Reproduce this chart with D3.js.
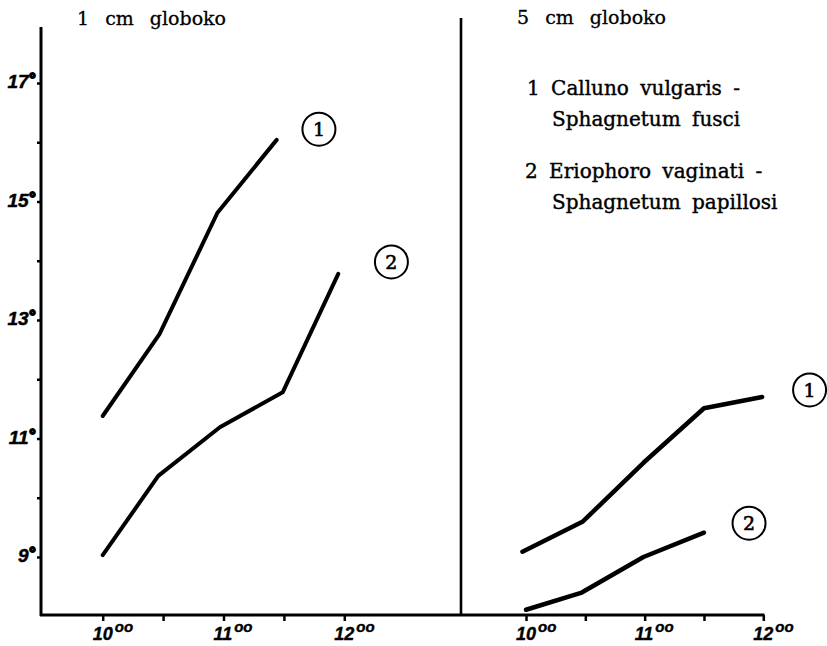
<!DOCTYPE html>
<html>
<head>
<meta charset="utf-8">
<script src="https://cdn.jsdelivr.net/npm/d3@7"></script>
<style>
  html, body { margin: 0; padding: 0; background: #fff; }
  svg { display: block; }
</style>
</head>
<body>
<svg id="chart" width="827" height="646"></svg>
<script>
// ---- data ----
const timeTicks = [10, 10.5, 11, 11.5, 12];
const timeLabels = ["10", "", "11", "", "12"];
const tempTicks = [9, 10, 11, 12, 13, 14, 15, 16, 17];
const tempLabels = ["9", "", "11", "", "13", "", "15", "", "17"];

// 1 cm depth
const left1Time = [10, 10.47, 10.95, 11.44];
const left1Temp = [11.38, 12.76, 14.81, 16.04];
const left2Time = [10, 10.46, 10.97, 11.49, 11.95];
const left2Temp = [9.03, 10.37, 11.19, 11.78, 13.78];
// 5 cm depth
const right1Time = [9.97, 10.48, 10.99, 11.5, 11.99];
const right1Temp = [9.09, 9.6, 10.59, 11.51, 11.70];
const right2Time = [10, 10.47, 10.99, 11.5];
const right2Temp = [8.11, 8.40, 9.0, 9.41];

// circled series numbers (time, temp)
const leftMarkers = [{n: "1", t: 11.79, v: 16.22}, {n: "2", t: 12.39, v: 13.98}];
const rightMarkers = [{n: "1", t: 12.39, v: 11.82}, {n: "2", t: 11.88, v: 9.57}];

const titles = ["1 cm globoko", "5 cm globoko"];
const legendLines = ["1 Calluno vulgaris -", "Sphagnetum fusci", "2 Eriophoro vaginati -", "Sphagnetum papillosi"];

// ---- drawing ----
const svg = d3.select("#chart");
const y = d3.scaleLinear().domain([9, 17]).range([557, 83]);
const xL = d3.scaleLinear().domain([10, 12]).range([102.7, 344.3]);
const xR = d3.scaleLinear().domain([10, 12]).range([526, 763.3]);
const baseY = 615;

// axes frame
svg.append("line").attr("x1", 41).attr("x2", 41).attr("y1", 27).attr("y2", baseY + 1)
  .attr("stroke", "#000").attr("stroke-width", 3);
svg.append("line").attr("x1", 461).attr("x2", 461).attr("y1", 18).attr("y2", baseY)
  .attr("stroke", "#000").attr("stroke-width", 2.6);
svg.append("line").attr("x1", 40).attr("x2", 764.5).attr("y1", baseY).attr("y2", baseY)
  .attr("stroke", "#000").attr("stroke-width", 3);

// y axis ticks
const yAxis = d3.axisLeft(y).tickValues(tempTicks).tickSize(4).tickFormat("");
const gy = svg.append("g").attr("transform", "translate(41,0)").call(yAxis);
gy.select(".domain").remove();
gy.selectAll(".tick line").attr("stroke", "#000").attr("stroke-width", 2.5);

const tickFont = "Liberation Sans, Arial, sans-serif";
tempTicks.forEach((v, i) => {
  if (!tempLabels[i]) return;
  const t = svg.append("text")
    .attr("x", 35).attr("y", y(v) + 5)
    .attr("text-anchor", "end")
    .attr("font-family", tickFont).attr("font-style", "italic").attr("font-weight", "bold")
    .attr("font-size", 19).attr("fill", "#000")
    .attr("stroke", "#000").attr("stroke-width", 0.5);
  t.append("tspan").text(tempLabels[i]);
  t.append("tspan").attr("dy", -3).attr("font-size", 16)
    .attr("stroke-width", 1.8).text("°");
});

// x axes
function xAxisFor(scale) {
  const g = svg.append("g").attr("transform", `translate(0,${baseY})`)
    .call(d3.axisBottom(scale).tickValues(timeTicks).tickSize(6).tickFormat(""));
  g.select(".domain").remove();
  g.selectAll(".tick line").attr("stroke", "#000").attr("stroke-width", 2.5);
  timeTicks.forEach((t, i) => {
    if (!timeLabels[i]) return;
    const tx = svg.append("text")
      .attr("x", scale(t) - 10).attr("y", 640)
      .attr("font-family", tickFont).attr("font-style", "italic").attr("font-weight", "bold")
      .attr("font-size", 18).attr("fill", "#000")
      .attr("stroke", "#000").attr("stroke-width", 0.4);
    tx.append("tspan").text(timeLabels[i]);
    tx.append("tspan").attr("dx", 2).attr("dy", -8).attr("font-size", 15).text("oo");
  });
}
xAxisFor(xL);
xAxisFor(xR);

// series lines
function drawLine(xs, ts, vs, w) {
  const pts = ts.map((t, i) => [xs(t), y(vs[i])]);
  svg.append("path")
    .attr("d", d3.line()(pts))
    .attr("fill", "none").attr("stroke", "#000")
    .attr("stroke-width", w).attr("stroke-linecap", "round").attr("stroke-linejoin", "round");
}
drawLine(xL, left1Time, left1Temp, 4);
drawLine(xL, left2Time, left2Temp, 4);
drawLine(xR, right1Time, right1Temp, 4.5);
drawLine(xR, right2Time, right2Temp, 4.5);

// circled labels
const serif = "DejaVu Serif, Liberation Serif, serif";
function drawMarkers(xs, list) {
  list.forEach(m => {
    const cx = xs(m.t), cy = y(m.v);
    svg.append("circle").attr("cx", cx).attr("cy", cy).attr("r", 16.5)
      .attr("fill", "none").attr("stroke", "#000").attr("stroke-width", 2);
    svg.append("text").attr("x", cx).attr("y", cy + 7)
      .attr("text-anchor", "middle").attr("font-family", serif)
      .attr("stroke", "#000").attr("stroke-width", 0.6)
      .attr("font-size", 19).attr("fill", "#000").text(m.n);
  });
}
drawMarkers(xL, leftMarkers);
drawMarkers(xR, rightMarkers);

// titles
[[77, 25], [517, 24]].forEach((p, i) => {
  svg.append("text").attr("x", p[0]).attr("y", p[1])
    .attr("font-family", serif).attr("font-size", 19).attr("word-spacing", 10)
    .attr("stroke", "#000").attr("stroke-width", 0.3)
    .attr("fill", "#000").text(titles[i]);
});

// legend
const legendPos = [[527, 95], [552, 126], [525, 178], [552, 209]];
legendLines.forEach((s, i) => {
  svg.append("text").attr("x", legendPos[i][0]).attr("y", legendPos[i][1])
    .attr("font-family", serif).attr("font-size", 20).attr("word-spacing", 5)
    .attr("stroke", "#000").attr("stroke-width", 0.4)
    .attr("fill", "#000").text(s);
});
</script>
</body>
</html>
